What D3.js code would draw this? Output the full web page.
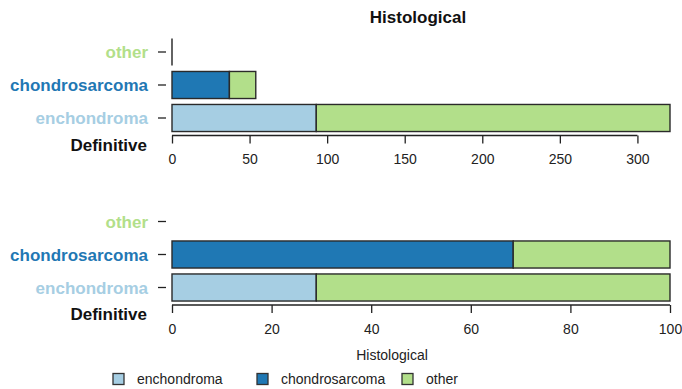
<!DOCTYPE html>
<html><head><meta charset="utf-8">
<script src="https://cdn.jsdelivr.net/npm/d3@7"></script>
<style>body{margin:0;background:#fff}svg{display:block}text{font-family:"Liberation Sans",Arial,sans-serif}</style>
</head><body><svg id="c" width="682" height="389"></svg>
<script>
// Definitive diagnosis rows (bottom to top in chart)
const definitive = ["enchondroma", "chondrosarcoma", "other"];
// Histological categories (stack order)
const histological = ["enchondroma", "chondrosarcoma", "other"];
// Counts per definitive row, for each histological category
const histEnchondroma = [93, 0, 0];
const histChondrosarcoma = [0, 37, 0];
const histOther = [228, 17, 0];
const countTicks = [0, 50, 100, 150, 200, 250, 300];
const pctTicks = [0, 20, 40, 60, 80, 100];
const colors = ["#a6cee3", "#1f78b4", "#b2df8a"];

const svg = d3.select("#c");
const series = [histEnchondroma, histChondrosarcoma, histOther];
const rows = definitive.map((d, i) => {
  const vals = series.map(s => s[i]);
  const total = d3.sum(vals);
  return { name: d, vals, total };
});
const colorOf = d3.scaleOrdinal().domain(histological).range(colors);

function panel(top, percent, ticks) {
  const y = d3.scaleBand().domain(definitive.slice().reverse())
    .range([top, top + 99]).paddingInner(0.18).paddingOuter(0.09);
  const maxTotal = d3.max(rows, r => r.total);
  const x = d3.scaleLinear().domain([0, percent ? 100 : maxTotal]).range([172, 670]);
  const g = svg.append("g");
  rows.forEach(r => {
    const vals = percent ? r.vals.map(v => r.total ? v / r.total * 100 : NaN) : r.vals;
    if (!percent && r.total === 0) {
      g.append("line").attr("x1", x(0)).attr("x2", x(0))
        .attr("y1", y(r.name)).attr("y2", y(r.name) + y.bandwidth())
        .attr("stroke", "#222").attr("stroke-width", 1.4);
    }
    let cum = 0;
    vals.forEach((v, j) => {
      if (!(v > 0)) return;
      g.append("rect").attr("x", x(cum)).attr("width", x(cum + v) - x(cum))
        .attr("y", y(r.name)).attr("height", y.bandwidth())
        .attr("fill", colors[j]).attr("stroke", "#2a2a2a").attr("stroke-width", 1.4);
      cum += v;
    });
    const cy = y(r.name) + y.bandwidth() / 2;
    g.append("line").attr("x1", 158).attr("x2", 166).attr("y1", cy).attr("y2", cy)
      .attr("stroke", "#222").attr("stroke-width", 1.3);
    g.append("text").attr("x", 148).attr("y", cy).attr("dy", "0.36em")
      .attr("text-anchor", "end").attr("font-weight", "bold").attr("font-size", 17)
      .attr("fill", colorOf(r.name)).text(r.name);
  });
  const axisY = top + 100;
  const ax = g.append("g").attr("transform", `translate(0,${axisY})`)
    .call(d3.axisBottom(x).tickValues(ticks).tickSize(8).tickPadding(11).tickSizeOuter(0));
  ax.select(".domain").remove();
  ax.append("line").attr("x1", x(ticks[0])).attr("x2", x(ticks[ticks.length - 1]))
    .attr("stroke", "#222").attr("stroke-width", 1.3);
  ax.selectAll(".tick line").attr("stroke", "#222").attr("stroke-width", 1.3);
  ax.selectAll(".tick text").attr("font-size", 14).attr("fill", "#222")
    .attr("font-family", '"Liberation Sans",Arial,sans-serif');
  g.append("text").attr("x", 147).attr("y", axisY + 9).attr("dy", "0.36em")
    .attr("text-anchor", "end").attr("font-weight", "bold").attr("font-size", 17)
    .attr("fill", "#111").text("Definitive");
}

panel(35.5, false, countTicks);
panel(205, true, pctTicks);

svg.append("text").attr("x", 418).attr("y", 23).attr("text-anchor", "middle")
  .attr("font-weight", "bold").attr("font-size", 17).attr("fill", "#111").text("Histological");
svg.append("text").attr("x", 392).attr("y", 360).attr("text-anchor", "middle")
  .attr("font-size", 14).attr("fill", "#222").text("Histological");

const legX = [113, 257, 402];
histological.forEach((h, i) => {
  svg.append("rect").attr("x", legX[i]).attr("y", 373.5).attr("width", 11).attr("height", 11)
    .attr("fill", colors[i]).attr("stroke", "#333").attr("stroke-width", 1.3);
  svg.append("text").attr("x", legX[i] + 24).attr("y", 379).attr("dy", "0.36em")
    .attr("font-size", 14).attr("fill", "#222").text(h);
});
</script></body></html>
